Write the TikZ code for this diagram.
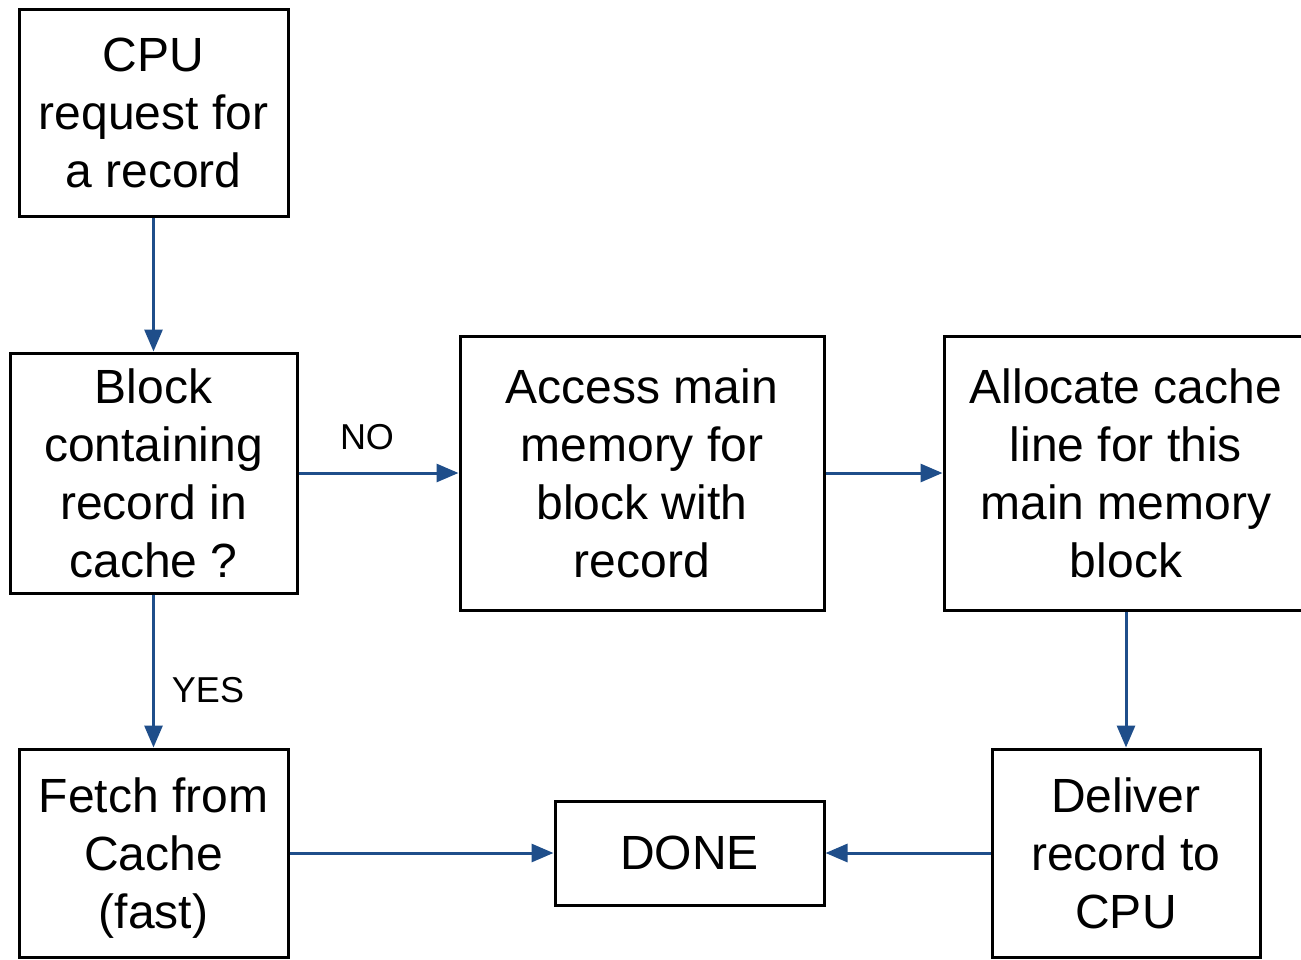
\documentclass[tikz,border=0pt]{standalone}
\usepackage{fontspec}
\setmainfont{Liberation Sans}
\usetikzlibrary{arrows.meta}
\definecolor{flowblue}{RGB}{31,78,138}
\begin{document}
\begin{tikzpicture}[x=0.5pt,y=-0.5pt,
  box/.style={draw=black, line width=1.5pt, fill=white, inner sep=0pt, align=center,
    font=\fontsize{24}{29}\selectfont},
  flow/.style={draw=flowblue, line width=1.5pt, -{Triangle[length=11pt,width=9pt]}},
  tag/.style={font=\fontsize{18}{21}\selectfont, inner sep=0pt}]
\clip (0,0) rectangle (1301,959);
\fill[white] (0,0) rectangle (1301,959);

\node[box, minimum width=134.5pt, minimum height=103.5pt] (cpu) at (153.5,112.5)
  {CPU\\request for\\a record};
\node[box, minimum width=143.5pt, minimum height=120pt] (check) at (153.5,473)
  {Block\\containing\\record in\\cache ?};
\node[box, minimum width=182pt, minimum height=137pt] (access) at (642,473)
  {Access main\\memory for\\block with\\record};
\node[box, minimum width=182pt, minimum height=137pt] (alloc) at (1126,473)
  {Allocate cache\\line for this\\main memory\\block};
\node[box, minimum width=134.5pt, minimum height=104pt] (fetch) at (153.5,853)
  {Fetch from\\Cache\\\raisebox{0pt}[\height][0pt]{(fast)}};
\node[box, minimum width=134.5pt, minimum height=52pt] (done) at (689.5,853)
  {DONE};
\node[box, minimum width=134pt, minimum height=104pt] (deliver) at (1126,853)
  {Deliver\\record to\\CPU};

\draw[flow] (cpu.south) -- (check.north);
\draw[flow] (check.east) -- (access.west);
\draw[flow] (access.east) -- (alloc.west);
\draw[flow] (alloc.south) -- (deliver.north);
\draw[flow] (check.south) -- (fetch.north);
\draw[flow] (fetch.east) -- (done.west);
\draw[flow] (deliver.west) -- (done.east);

\node[tag] (no) at (367,437) {NO};
\node[tag] (yes) at (208,690) {YES};
\end{tikzpicture}
\end{document}
